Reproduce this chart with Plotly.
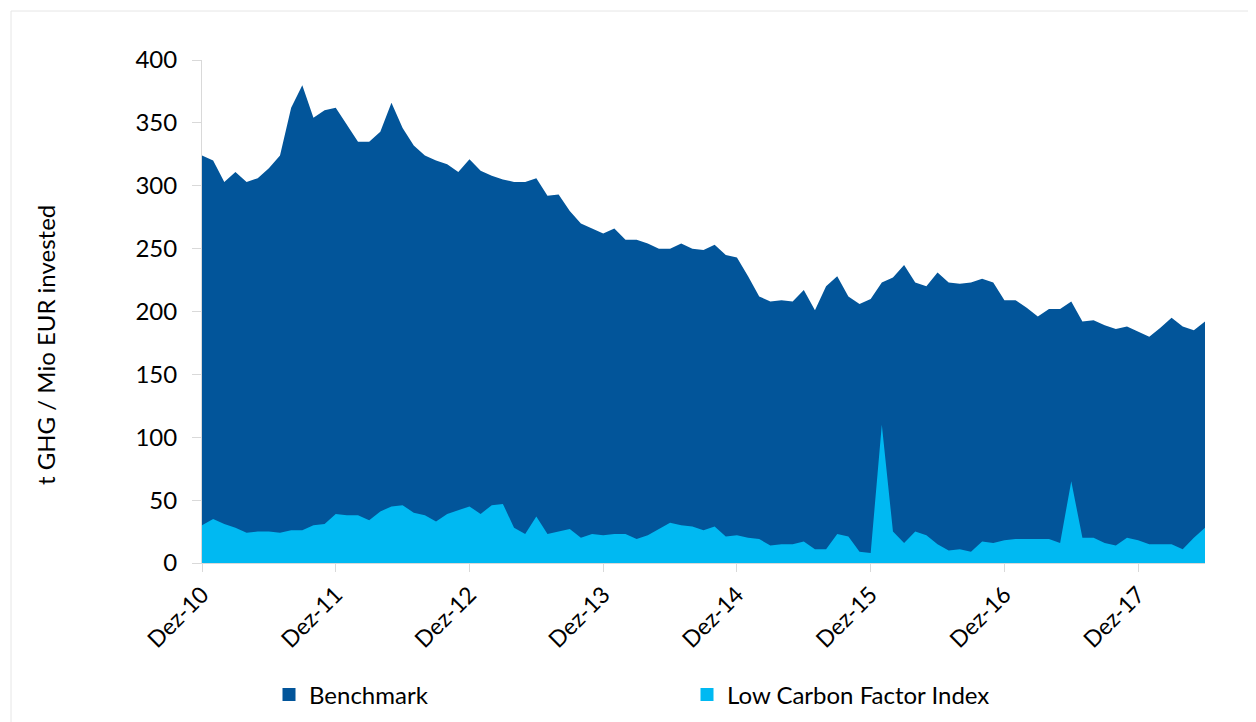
import plotly.graph_objects as go

# Monthly categories Dez-10 .. Jun-18 (German month abbreviations)
month_abbr = ["Jan", "Feb", "Mär", "Apr", "Mai", "Jun", "Jul", "Aug", "Sep", "Okt", "Nov", "Dez"]
months = ["Dez-10"] + [f"{month_abbr[m]}-{y % 100:02d}" for y in range(2011, 2019) for m in range(12)]
months = months[:91]

tick_labels = ["Dez-10", "Dez-11", "Dez-12", "Dez-13", "Dez-14", "Dez-15", "Dez-16", "Dez-17"]
y_ticks = [0, 50, 100, 150, 200, 250, 300, 350, 400]

benchmark = [
    324, 320, 303, 311, 303, 306, 314, 324, 362, 380, 354, 360,
    362, 349, 335, 335, 343, 366, 346, 332, 324, 320, 317, 311,
    321, 312, 308, 305, 303, 303, 306, 292, 293, 280, 270, 266,
    262, 266, 257, 257, 254, 250, 250, 254, 250, 249, 253, 245,
    243, 228, 212, 208, 209, 208, 217, 201, 220, 228, 212, 206,
    210, 223, 227, 237, 223, 220, 231, 223, 222, 223, 226, 223,
    209, 209, 203, 196, 202, 202, 208, 192, 193, 189, 186, 188,
    184, 180, 187, 195, 188, 185, 192,
]

low_carbon = [
    30, 35, 31, 28, 24, 25, 25, 24, 26, 26, 30, 31,
    39, 38, 38, 34, 41, 45, 46, 40, 38, 33, 39, 42,
    45, 39, 46, 47, 28, 23, 37, 23, 25, 27, 20, 23,
    22, 23, 23, 19, 22, 27, 32, 30, 29, 26, 29, 21,
    22, 20, 19, 14, 15, 15, 17, 11, 11, 23, 21, 9,
    8, 110, 25, 16, 25, 22, 15, 10, 11, 9, 17, 16,
    18, 19, 19, 19, 19, 16, 65, 20, 20, 16, 14, 20,
    18, 15, 15, 15, 11, 20, 28,
]

c_bench = "#02559A"
c_low = "#00B9F2"
font_family = "Lato, 'Open Sans', sans-serif"

fig = go.Figure()
fig.add_trace(go.Scatter(
    x=months, y=benchmark, mode="lines", fill="tozeroy",
    line=dict(width=0, color=c_bench), fillcolor=c_bench,
    name="Benchmark", showlegend=False,
))
fig.add_trace(go.Scatter(
    x=months, y=low_carbon, mode="lines", fill="tozeroy",
    line=dict(width=0, color=c_low), fillcolor=c_low,
    name="Low Carbon Factor Index", showlegend=False,
))
# legend entries as squares
fig.add_trace(go.Scatter(x=[None], y=[None], mode="markers", name="Benchmark",
                         marker=dict(symbol="square", size=13, color=c_bench)))
fig.add_trace(go.Scatter(x=[None], y=[None], mode="markers", name="Low Carbon Factor Index",
                         marker=dict(symbol="square", size=13, color=c_low)))

OFF = 8  # page body margin
W, H = 1256, 722
L, R, T, B = 194, 59, 52, 167
pw, ph = W - L - R, H - T - B

def px_x(x):
    return (x - OFF - L) / pw

def px_y(y):
    return (H - B - (y - OFF)) / ph

fig.update_layout(
    width=W, height=H,
    margin=dict(l=L, r=R, t=T, b=B),
    paper_bgcolor="white", plot_bgcolor="white",
    font=dict(family=font_family, size=24, color="black"),
    showlegend=True,
    legend=dict(
        orientation="h", xref="container", yref="container",
        x=(269 - OFF) / W, y=1 - (695 - OFF) / H, xanchor="left", yanchor="middle",
        entrywidth=373, entrywidthmode="pixels",
        font=dict(size=24, color="black"), bgcolor="rgba(0,0,0,0)",
    ),
    xaxis=dict(
        type="category", categoryorder="array", categoryarray=months,
        range=[0, len(months) - 1],
        tickmode="array", tickvals=tick_labels, ticktext=tick_labels,
        tickangle=-45, ticks="outside", ticklen=8, tickcolor="#d9d9d9",
        showline=True, linecolor="#d9d9d9", linewidth=1,
        showgrid=False, zeroline=False,
        tickfont=dict(size=23, color="black"),
    ),
    yaxis=dict(
        range=[0, 400], tickmode="array", tickvals=y_ticks,
        ticks="outside", ticklen=9, tickcolor="#d9d9d9",
        showline=True, linecolor="#d9d9d9", linewidth=1,
        showgrid=False, zeroline=False,
        tickfont=dict(size=24, color="black"),
        ticklabelstandoff=10,
    ),
    annotations=[dict(
        text="t GHG / Mio EUR invested", xref="paper", yref="paper",
        x=px_x(45), y=px_y(345), textangle=-90, showarrow=False,
        font=dict(size=24, color="black"), xanchor="center", yanchor="middle",
    )],
    shapes=[dict(
        type="rect", xref="paper", yref="paper",
        x0=px_x(11), x1=px_x(1262), y0=px_y(735), y1=px_y(11),
        line=dict(color="#e6e6e6", width=1), fillcolor="rgba(0,0,0,0)", layer="below",
    )],
)

fig.write_html("out.html")
